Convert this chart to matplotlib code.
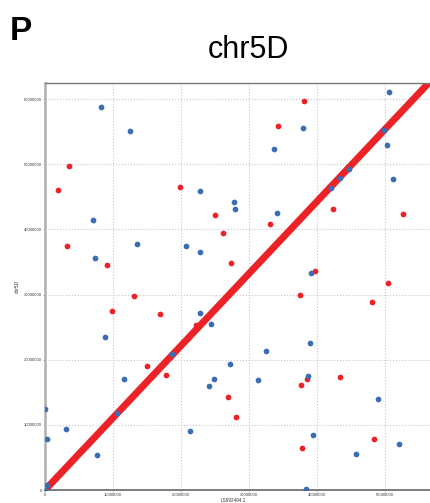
import matplotlib
matplotlib.use("Agg")
import matplotlib.pyplot as plt

plt.rcParams['font.family'] = ['Liberation Sans', 'DejaVu Sans']

# main collinear block (start / end of the diagonal), bp
diag_x = [0, 56700000]
diag_y = [0, 62700000]

# scattered hits, bp
blue_x = [8.29e6, 12.5e6, 22.8e6, 27.9e6, 28.0e6, 7.0e6, 13.5e6, 20.7e6, 22.8e6, 7.3e6,
          50.6e6, 38.0e6, 49.9e6, 50.3e6, 33.7e6, 44.7e6, 43.4e6, 42.1e6, 51.3e6, 34.2e6,
          22.9e6, 24.4e6, 8.8e6, 18.7e6, 11.6e6, 27.3e6, 24.9e6, 24.1e6, 0.0e6, 10.6e6,
          3.1e6, 0.3e6, 21.3e6, 39.2e6, 39.1e6, 32.6e6, 31.3e6, 38.7e6, 49.0e6, 39.4e6,
          52.1e6, 45.8e6, 38.5e6, 7.7e6, 0.3e6, 0.05e6]
blue_y = [58.8e6, 55.1e6, 45.9e6, 44.2e6, 43.2e6, 41.5e6, 37.8e6, 37.4e6, 36.6e6, 35.6e6,
          61.1e6, 55.6e6, 55.3e6, 52.9e6, 52.4e6, 49.2e6, 47.9e6, 46.4e6, 47.8e6, 42.5e6,
          27.1e6, 25.5e6, 23.5e6, 20.9e6, 17.1e6, 19.4e6, 17.0e6, 16.0e6, 12.4e6, 11.8e6,
          9.4e6, 7.8e6, 9.0e6, 33.3e6, 22.5e6, 21.4e6, 16.9e6, 17.5e6, 13.9e6, 8.4e6,
          7.1e6, 5.5e6, 0.2e6, 5.3e6, 0.8e6, 0.05e6]

red_x = [3.6e6, 1.9e6, 19.9e6, 25.0e6, 26.2e6, 3.3e6, 38.1e6, 34.3e6, 42.4e6, 52.7e6,
         33.2e6, 9.2e6, 27.4e6, 13.1e6, 9.8e6, 16.9e6, 22.2e6, 15.0e6, 17.8e6, 27.0e6,
         28.2e6, 39.8e6, 50.5e6, 37.6e6, 48.1e6, 38.6e6, 37.7e6, 43.4e6, 48.4e6, 37.9e6]
red_y = [49.7e6, 46.0e6, 46.5e6, 42.2e6, 39.5e6, 37.4e6, 59.7e6, 55.9e6, 43.1e6, 42.3e6,
         40.9e6, 34.6e6, 34.8e6, 29.8e6, 27.5e6, 27.0e6, 25.3e6, 19.0e6, 17.6e6, 14.3e6,
         11.2e6, 33.6e6, 31.8e6, 30.0e6, 28.9e6, 17.0e6, 16.1e6, 17.4e6, 7.9e6, 6.4e6]

ticks = [0, 10000000, 20000000, 30000000, 40000000, 50000000, 60000000]

RED = '#ec2227'
BLUE = '#3a6db5'


def make_plot():
    fig = plt.figure(figsize=(4.3, 5.03), dpi=100)
    ax = fig.add_axes([45 / 430, 13 / 503, 385 / 430, 407.5 / 503])

    ax.plot(diag_x, diag_y, color=RED, lw=5, solid_capstyle='round', zorder=2)
    ax.scatter(red_x, red_y, s=17, color=RED, lw=0, zorder=3)
    ax.scatter(blue_x, blue_y, s=17, color=BLUE, lw=0, zorder=4)

    ax.set_xlim(0, 56700000)
    ax.set_ylim(0, 62550000)
    ax.set_xticks(ticks[:-1])
    ax.set_yticks(ticks)
    ax.set_xticklabels([str(t) for t in ticks[:-1]])
    ax.set_yticklabels([str(t) for t in ticks])
    ax.tick_params(labelsize=3, length=1.5, width=0.5, color='#999999', pad=0.8,
                   labelcolor='#333333')
    ax.grid(True, linestyle=':', color='#c8c8c8', lw=0.8)
    ax.set_axisbelow(True)

    ax.spines['left'].set_color('#b0b0b0')
    ax.spines['left'].set_linewidth(1.8)
    ax.spines['bottom'].set_color('#666666')
    ax.spines['bottom'].set_linewidth(1.2)
    ax.spines['top'].set_color('#777777')
    ax.spines['top'].set_linewidth(1.0)
    ax.spines['right'].set_visible(False)

    fig.text(233 / 430, 1 - 500.5 / 503, 'LS992494.1', fontsize=3.3, color='#333333',
             ha='center', va='center')
    ax.set_ylabel('chr5D', fontsize=3.5, labelpad=3, color='#333333')

    fig.text(248 / 430, 1 - 50 / 503, 'chr5D', fontsize=22, ha='center', va='center')
    fig.text(10 / 430, 1 - 31 / 503, 'P', fontsize=24, fontweight='bold',
             ha='left', va='center')

    fig.savefig('out.png', dpi=100)


if __name__ == "__main__":
    make_plot()
